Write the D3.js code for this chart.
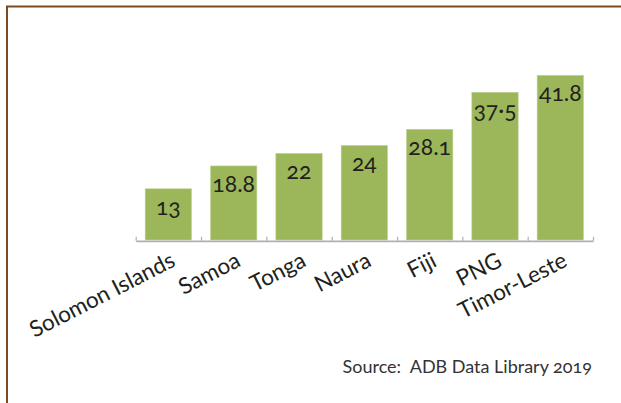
<!DOCTYPE html>
<html>
<head>
<meta charset="utf-8">
<script src="https://cdn.jsdelivr.net/npm/d3@7"></script>
<style>
  html, body { margin: 0; padding: 0; background: #fff; }
  svg { display: block; font-family: Lato, "Open Sans", sans-serif; font-variant-numeric: oldstyle-nums; }
</style>
</head>
<body>
<svg id="chart"></svg>
<script>
// data
const countries = ['Solomon Islands', 'Samoa', 'Tonga', 'Naura', 'Fiji', 'PNG', 'Timor-Leste'];
const values = [13, 18.8, 22, 24, 28.1, 37.5, 41.8];
const valueLabels = ['13', '18.8', '22', '24', '28.1', '37·5', '41.8'];
const sourceNote = 'Source:  ADB Data Library 2019';

const width = 621, height = 403;
const baseY = 240;

const svg = d3.select('#chart')
    .attr('width', width)
    .attr('height', height);

// brown frame, top and left only
svg.append('path')
    .attr('d', 'M7,' + height + 'V6.5H' + width)
    .attr('fill', 'none')
    .attr('stroke', '#7d4c1c')
    .attr('stroke-width', 2);

// x scale
const x = d3.scaleBand()
    .domain(countries)
    .range([135.7, 593])
    .paddingInner(0.29)
    .paddingOuter(0.145);

// y scale
const y = d3.scaleLinear()
    .domain([0, 45])
    .range([baseY, baseY - 45 * 3.94]);

const rows = countries.map((c, i) => ({ name: c, value: values[i], label: valueLabels[i] }));

// bars
svg.append('g')
    .selectAll('rect')
    .data(rows)
    .join('rect')
    .attr('x', d => x(d.name))
    .attr('y', d => y(d.value))
    .attr('width', x.bandwidth())
    .attr('height', d => y(0) - y(d.value))
    .attr('fill', '#9bb759')
    .attr('stroke', '#c4d49c')
    .attr('stroke-width', 0.6);

// value labels inside bars
svg.append('g')
    .selectAll('text')
    .data(rows)
    .join('text')
    .attr('x', d => x(d.name) + x.bandwidth() / 2)
    .attr('y', d => y(d.value) + 26)
    .attr('text-anchor', 'middle')
    .attr('font-size', '23px')
    .attr('fill', '#231f20')
    .text(d => d.label);

// axis line with small upward ticks between the bars
const edges = d3.scaleLinear()
    .domain([0, countries.length])
    .range(x.range());

const axis = svg.append('g')
    .attr('transform', 'translate(0,' + (baseY + 0.8) + ')')
    .call(d3.axisBottom(edges)
        .tickValues(d3.range(countries.length + 1))
        .tickSize(-4)
        .tickSizeOuter(0)
        .tickFormat(''));
axis.select('.domain').attr('stroke', '#b0b0b0').attr('stroke-width', 1.8);
axis.selectAll('.tick line').attr('stroke', '#b0b0b0').attr('stroke-width', 1.2);

// rotated category labels
svg.append('g')
    .selectAll('text')
    .data(countries)
    .join('text')
    .attr('transform', d => 'translate(' + (x(d) + x.bandwidth() / 2 + 1) + ',251) rotate(-27)')
    .attr('dy', '0.72em')
    .attr('text-anchor', 'end')
    .attr('font-size', '22.5px')
    .attr('fill', '#231f20')
    .text(d => d);

// source note
svg.append('text')
    .attr('x', 592)
    .attr('y', 373)
    .attr('text-anchor', 'end')
    .attr('font-size', '18px')
    .attr('fill', '#333')
    .style('white-space', 'pre')
    .text(sourceNote);
</script>
</body>
</html>
